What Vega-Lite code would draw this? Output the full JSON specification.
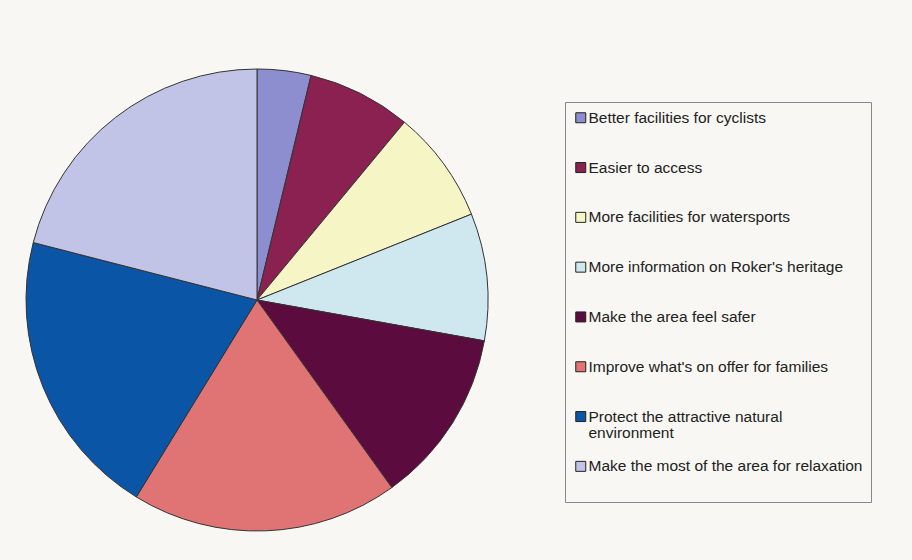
{
  "$schema": "https://vega.github.io/schema/vega-lite/v6.json",
  "width": 514,
  "height": 520,
  "autosize": {"type": "none"},
  "padding": {"left": 0, "top": 40, "right": 398, "bottom": 0},
  "background": "#f8f7f3",
  "config": {"view": {"stroke": null}, "style": {"guide-label": {"lineHeight": 16}}},
  "data": {
    "values": [
      {"answer": "Better facilities for cyclists", "share": 3.76, "order": 1},
      {"answer": "Easier to access", "share": 7.26, "order": 2},
      {"answer": "More facilities for watersports", "share": 7.92, "order": 3},
      {"answer": "More information on Roker's heritage", "share": 8.89, "order": 4},
      {"answer": "Make the area feel safer", "share": 12.25, "order": 5},
      {"answer": "Improve what's on offer for families", "share": 18.67, "order": 6},
      {"answer": "Protect the attractive natural environment", "share": 20.25, "order": 7},
      {"answer": "Make the most of the area for relaxation", "share": 21.0, "order": 8}
    ]
  },
  "mark": {"type": "arc", "outerRadius": 231, "stroke": "#333333", "strokeWidth": 1},
  "encoding": {
    "theta": {"field": "share", "type": "quantitative", "stack": true},
    "order": {"field": "order", "type": "quantitative"},
    "color": {
      "field": "answer",
      "type": "nominal",
      "sort": null,
      "scale": {
        "domain": [
          "Better facilities for cyclists",
          "Easier to access",
          "More facilities for watersports",
          "More information on Roker's heritage",
          "Make the area feel safer",
          "Improve what's on offer for families",
          "Protect the attractive natural environment",
          "Make the most of the area for relaxation"
        ],
        "range": ["#8c8ecf", "#8a2150", "#f6f5c6", "#cfe7ef", "#5c0b3e", "#e07474", "#0b55a6", "#c1c4e6"]
      },
      "legend": {
        "title": " ",
        "titleOrient": "bottom",
        "titleFontSize": 10,
        "titlePadding": 9,
        "orient": "none",
        "legendX": 565,
        "legendY": 62,
        "padding": 8,
        "strokeColor": "#888888",
        "fillColor": "#f8f7f3",
        "symbolType": "square",
        "symbolSize": 100,
        "symbolStrokeColor": "#222222",
        "symbolStrokeWidth": 1,
        "symbolOpacity": 1,
        "symbolOffset": 0,
        "labelFont": "Liberation Sans",
        "labelFontSize": 15.5,
        "labelColor": "#222222",
        "labelOffset": 0,
        "labelLimit": 400,
        "gridAlign": "all",
        "rowPadding": 16.8,
        "labelExpr": "datum.label == 'Protect the attractive natural environment' ? ['Protect the attractive natural', 'environment'] : datum.label"
      }
    }
  }
}
